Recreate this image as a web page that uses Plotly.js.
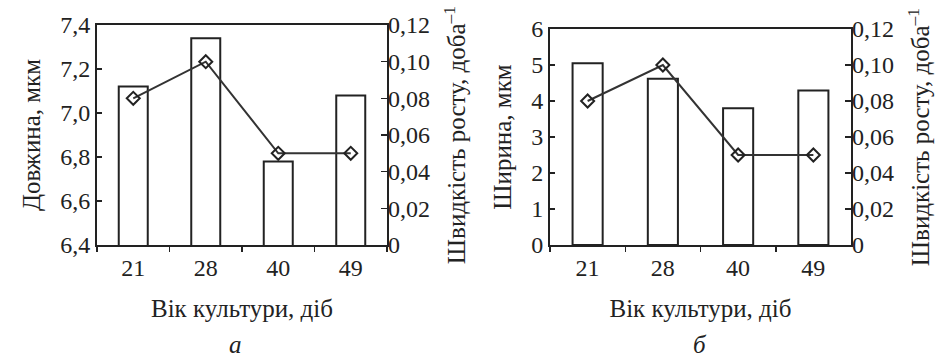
<!DOCTYPE html>
<html>
<head>
<meta charset="utf-8">
<script src="https://cdn.plot.ly/plotly-3.0.1.min.js"></script>
<style>html,body{margin:0;padding:0;background:#fff;}#chart{width:946px;height:359px;}</style>
</head>
<body>
<div id="chart"></div>
<script>
// Data
const ages = ["21", "28", "40", "49"];
const lengthUm = [7.12, 7.34, 6.78, 7.08];
const widthUm = [5.05, 4.62, 3.80, 4.29];
const growthRateA = [0.08, 0.10, 0.05, 0.05];
const growthRateB = [0.08, 0.10, 0.05, 0.05];
const rateTickVals = [0, 0.02, 0.04, 0.06, 0.08, 0.10, 0.12];
const rateTickText = ["0", "0,02", "0,04", "0,06", "0,08", "0,10", "0,12"];

const FONT = "Liberation Serif";
const INK = "#222";
function fnt(size) { return {family: FONT, size: size, color: INK}; }
function barStyle() { return {color: "#ffffff", line: {color: INK, width: 2}}; }
function lineStyle() { return {color: "#333", width: 2}; }
function markerStyle() { return {symbol: "diamond-open", size: 10, color: INK, line: {width: 2, color: INK}}; }

const traces = [
  {type: "bar", x: ages, y: lengthUm, xaxis: "x", yaxis: "y", width: 0.4, marker: barStyle(), hoverinfo: "none"},
  {type: "scatter", mode: "lines+markers", x: ages, y: growthRateA, xaxis: "x", yaxis: "y2", line: lineStyle(), marker: markerStyle(), hoverinfo: "none"},
  {type: "bar", x: ages, y: widthUm, xaxis: "x2", yaxis: "y3", width: 0.4, marker: barStyle(), hoverinfo: "none"},
  {type: "scatter", mode: "lines+markers", x: ages, y: growthRateB, xaxis: "x2", yaxis: "y4", line: lineStyle(), marker: markerStyle(), hoverinfo: "none"}
];

const W = 946, H = 359;
const TICK = 24, TITLE = 25;

function xAxis(domain, anchor) {
  return {
    domain: domain, anchor: anchor, type: "category", range: [-0.5, 3.5],
    tickson: "boundaries", ticks: "outside", ticklen: 5, tickwidth: 1.5, tickcolor: INK,
    showline: true, mirror: true, linewidth: 2, linecolor: INK,
    showgrid: false, zeroline: false, tickfont: fnt(TICK),
    title: {text: "Вік культури, діб", font: fnt(TITLE), standoff: 20}
  };
}
function yLeft(domain, anchor, range, dtick, fmt, title) {
  return {
    domain: domain, anchor: anchor, range: range, dtick: dtick, tickformat: fmt,
    ticks: "inside", ticklen: 5, tickwidth: 1.5, tickcolor: INK,
    showline: true, mirror: true, linewidth: 2, linecolor: INK,
    showgrid: false, zeroline: false, tickfont: fnt(TICK),
    title: {text: title, font: fnt(TITLE), standoff: 12}
  };
}
function yRight(overlay, anchor) {
  return {
    overlaying: overlay, anchor: anchor, side: "right", range: [0, 0.12],
    tickmode: "array", tickvals: rateTickVals, ticktext: rateTickText,
    ticks: "inside", ticklen: 6, tickwidth: 1.5, tickcolor: INK,
    showline: false, showgrid: false, zeroline: false, tickfont: fnt(TICK),
    title: {text: "Швидкість росту, доба<sup>–1</sup>", font: fnt(TITLE), standoff: 18}
  };
}

const bottom = (H - 245) / H;
const layout = {
  width: W, height: H,
  margin: {l: 0, r: 0, t: 0, b: 0},
  paper_bgcolor: "#fff", plot_bgcolor: "#fff",
  showlegend: false,
  separators: ", ",
  xaxis: xAxis([97 / W, 387 / W], "y"),
  yaxis: yLeft([bottom, (H - 25) / H], "x", [6.4, 7.4], 0.2, ".1f", "Довжина, мкм"),
  yaxis2: yRight("y", "x"),
  xaxis2: xAxis([550 / W, 851 / W], "y3"),
  yaxis3: yLeft([bottom, (H - 29) / H], "x2", [0, 6], 1, "d", "Ширина, мкм"),
  yaxis4: yRight("y3", "x2"),
  annotations: [
    {text: "<i>а</i>", xref: "paper", yref: "paper", x: 235 / W, y: (H - 344) / H, xanchor: "center", yanchor: "middle", showarrow: false, font: fnt(TITLE)},
    {text: "<i>б</i>", xref: "paper", yref: "paper", x: 700 / W, y: (H - 344) / H, xanchor: "center", yanchor: "middle", showarrow: false, font: fnt(TITLE)}
  ]
};

Plotly.newPlot("chart", traces, layout, {staticPlot: true, displayModeBar: false});
</script>
</body>
</html>
